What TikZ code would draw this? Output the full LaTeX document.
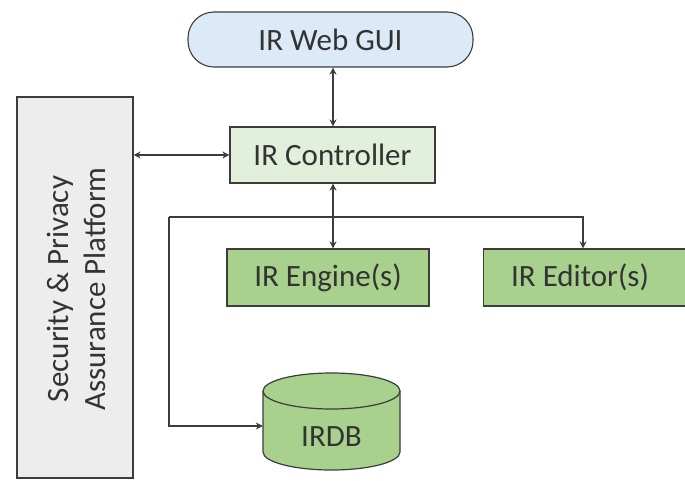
\documentclass[tikz,border=0pt]{standalone}
\usepackage{fontspec}
\setmainfont{Carlito}
\usetikzlibrary{arrows.meta}
\definecolor{edge}{HTML}{3C3C3C}
\definecolor{txt}{HTML}{333333}
\definecolor{guiblue}{HTML}{DCE9F6}
\definecolor{ctrlgreen}{HTML}{E2EFDA}
\definecolor{boxgreen}{HTML}{A9D18E}
\definecolor{platgrey}{HTML}{EDEDED}
\begin{document}
\begin{tikzpicture}[x=1pt,y=-1pt,
  lbl/.style={text=txt, font=\fontsize{31}{37}\selectfont},
  box/.style={draw=edge, line width=1.1pt, lbl, inner sep=0pt},
  conn/.style={draw=edge, line width=1.2pt},
  tip/.style={-{Stealth[length=7pt,width=7pt]}},
  tips/.style={{Stealth[length=7pt,width=7pt]}-{Stealth[length=7pt,width=7pt]}}]
\useasboundingbox (0,0) rectangle (685,481);
\node[box, fill=guiblue, rounded corners=26pt, minimum width=285pt, minimum height=55pt] (gui) at (330.5,39.5) {IR Web GUI};
\node[box, fill=ctrlgreen, minimum width=205pt, minimum height=56pt] (ctrl) at (332.5,155) {IR Controller};
\node[box, fill=platgrey, minimum width=116pt, minimum height=381pt] (plat) at (75,287.5) {};
\node[lbl, rotate=90, align=center] (plattxt) at (76,289) {Security \& Privacy\\Assurance Platform};
\node[box, fill=boxgreen, minimum width=202pt, minimum height=57pt] (eng) at (328,277.5) {IR Engine(s)};
\node[box, fill=boxgreen, minimum width=210pt, minimum height=57pt, anchor=west] (edit) at (483,277.5) {\hspace*{-17pt}IR Editor(s)};
% cylinder
\fill[boxgreen] (263,391) -- (263,452) arc[start angle=180,end angle=0,x radius=68.5,y radius=18] -- (400,391) arc[start angle=0,end angle=-180,x radius=68.5,y radius=18] -- cycle;
\draw[conn] (263,391) -- (263,452) arc[start angle=180,end angle=0,x radius=68.5,y radius=18] -- (400,391);
\draw[conn] (331.5,391) ellipse[x radius=68.5,y radius=18];
\node[lbl, minimum width=137pt, minimum height=60pt, inner sep=0pt] (db) at (331.5,437) {IRDB};
% connectors
\draw[conn,tips] (gui.south -| 333,0) -- (ctrl.north -| 333,0);
\draw[conn,tips] (ctrl.west) -- (plat.east |- ctrl.west);
\draw[conn,tips] (ctrl.south -| 333,0) -- (eng.north -| 333,0);
\coordinate (jl) at (169,217);
\coordinate (jr) at (583,217);
\coordinate (jb) at (169,426);
\draw[conn,tip] (jl) -- (jr) -- (edit.north -| jr);
\draw[conn,tip] (jl) -- (jb) -- (db.west |- jb);
\end{tikzpicture}
\end{document}
